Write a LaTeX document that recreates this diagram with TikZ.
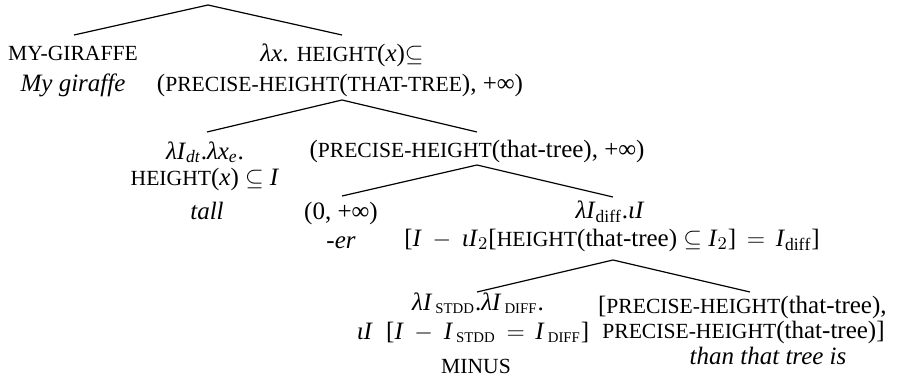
\documentclass[tikz,border=0pt]{standalone}
\usepackage{fontspec}
\setmainfont{Liberation Serif}
\usetikzlibrary{positioning}

% fake small caps (Liberation Serif has none)
\newcommand\fsc[1]{{\fontsize{10.8}{12}\selectfont #1}}
\newcommand\ssc[1]{\mbox{\fontsize{7.4}{8}\selectfont #1}}
\medmuskip=8mu
\thickmuskip=8mu

\begin{document}
\begin{tikzpicture}[
  x=0.5pt, y=-0.5pt, font=\fontsize{12.5}{14}\selectfont,
  lbl/.style={anchor=base, inner sep=0pt},
  word/.style={lbl, font=\fontsize{12.5}{14}\selectfont\itshape},
  br/.style={line width=0.6pt, line join=miter},
]
\useasboundingbox (0,0) rectangle (909,385);

% branch points
\coordinate (top)   at (208,5);
\coordinate (subj)  at (74,35);
\coordinate (pred)  at (342,35);
\coordinate (predf) at (342,100);
\coordinate (adj)   at (207,132);
\coordinate (degp)  at (477,132);
\coordinate (degf)  at (477,165);
\coordinate (er)    at (342,196);
\coordinate (than)  at (613,197);
\coordinate (thanf) at (613,260);
\coordinate (minus) at (477,292);
\coordinate (cmpl)  at (750,292);

% level 1
\node[lbl] (giraffe) at (73,61) {\fsc{MY-GIRAFFE}};
\node[word] (giraffew) at (73,91) {My giraffe};
\node[lbl] (predA) at (342,62) {\textit{λx}. \fsc{HEIGHT}(\textit{x})$\subseteq$};
\node[lbl] (predB) at (340,91) {(\fsc{PRECISE-HEIGHT}(\fsc{THAT-TREE}), +∞)};

% level 2
\node[lbl] (tallA) at (205,159) {\textit{λI}$_{\mathit{dt}}$.\textit{λx}$_{\mathit{e}}$.};
\node[lbl] (tallB) at (205,185) {\fsc{HEIGHT}(\textit{x}) $\subseteq$ \textit{I}};
\node[word] (tallw) at (207,219) {tall};
\node[lbl] (degA) at (477,157) {(\fsc{PRECISE-HEIGHT}(that-tree), +∞)};

% level 3
\node[lbl] (erA) at (341,219) {(0, +∞)};
\node[word] (erw) at (341,248) {-er};
\node[lbl] (thanA) at (610,218) {\textit{λI}$_{\mathrm{diff}}$.\textit{ιI}};
\node[lbl] (thanB) at (612,246) {[\textit{I}${}-{}$\textit{ιI}$_2$[\fsc{HEIGHT}(that-tree) $\subseteq$ \textit{I}$_2$]${}={}$\textit{I}$_{\mathrm{diff}}$]};

% level 4
\node[lbl] (minusA) at (478,310) {\textit{λI}$_{\,\ssc{STDD}}$.\textit{λI}$_{\,\ssc{DIFF}}$.};
\node[lbl] (minusB) at (473,339) {\textit{ιI}\; [\textit{I}${}-{}$\textit{I}$_{\,\ssc{STDD}}$${}={}$\textit{I}$_{\,\ssc{DIFF}}$]};
\node[lbl] (minusw) at (476,373) {\fsc{MINUS}};
\node[lbl, anchor=base east] (cmplA) at (887,313) {[\fsc{PRECISE-HEIGHT}(that-tree),};
\node[lbl, anchor=base east] (cmplB) at (885,338) {\fsc{PRECISE-HEIGHT}(that-tree)]};
\node[word] (thanw) at (768,364) {than that tree is};

% branches
\draw[br] (subj) -- (top) -- (pred);
\draw[br] (adj) -- (predf) -- (degp);
\draw[br] (er) -- (degf) -- (than);
\draw[br] (minus) -- (thanf) -- (cmpl);
\end{tikzpicture}
\end{document}
